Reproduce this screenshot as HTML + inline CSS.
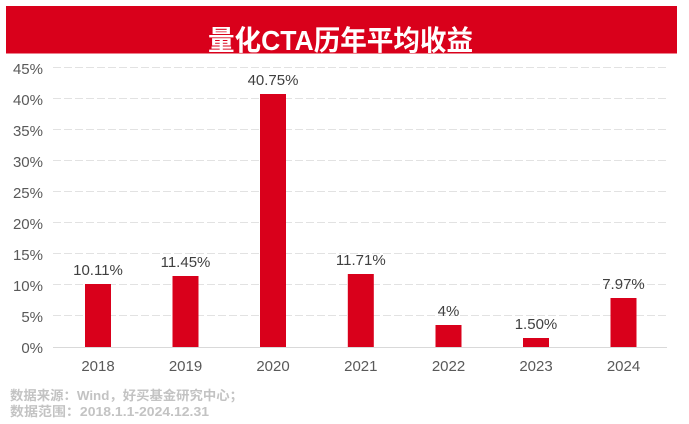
<!DOCTYPE html>
<html><head><meta charset="utf-8"><style>
html,body{margin:0;padding:0;background:#fff;}
svg{display:block;}
</style></head><body>
<svg width="689" height="424" viewBox="0 0 689 424" xmlns="http://www.w3.org/2000/svg">
<rect x="0" y="0" width="689" height="424" fill="#fff"/>
<rect x="6" y="6" width="671" height="47.5" fill="#d9001b"/>
<text x="208" y="50" textLength="265" lengthAdjust="spacingAndGlyphs" font-family="'Liberation Sans','Noto Sans CJK SC',sans-serif" font-weight="700" font-size="28" fill="#fff">量化CTA历年平均收益</text>
<g stroke="#e2e2e2" stroke-width="1" stroke-dasharray="8,3">
<line x1="53" x2="667" y1="67.5" y2="67.5"/>
<line x1="53" x2="667" y1="98.5" y2="98.5"/>
<line x1="53" x2="667" y1="129.5" y2="129.5"/>
<line x1="53" x2="667" y1="160.5" y2="160.5"/>
<line x1="53" x2="667" y1="191.5" y2="191.5"/>
<line x1="53" x2="667" y1="222.5" y2="222.5"/>
<line x1="53" x2="667" y1="253.5" y2="253.5"/>
<line x1="53" x2="667" y1="284.5" y2="284.5"/>
<line x1="53" x2="667" y1="315.5" y2="315.5"/>
</g>
<line x1="53" x2="667" y1="347.5" y2="347.5" stroke="#d9d9d9" stroke-width="1"/>
<g font-family="'Liberation Sans',sans-serif" font-size="15" fill="#595959" text-anchor="end">
<text x="43" y="74">45%</text>
<text x="43" y="105">40%</text>
<text x="43" y="136">35%</text>
<text x="43" y="167">30%</text>
<text x="43" y="198">25%</text>
<text x="43" y="229">20%</text>
<text x="43" y="260">15%</text>
<text x="43" y="291">10%</text>
<text x="43" y="322">5%</text>
<text x="43" y="353">0%</text>
</g>
<g fill="#d9001b">
<rect x="85" y="284" width="26" height="63"/>
<rect x="172.5" y="276" width="26" height="71"/>
<rect x="260" y="94" width="26" height="253"/>
<rect x="347.8" y="274" width="26" height="73"/>
<rect x="435.5" y="325" width="26" height="22"/>
<rect x="523" y="338" width="26" height="9"/>
<rect x="610.5" y="298" width="26" height="49"/>
</g>
<g font-family="'Liberation Sans',sans-serif" font-size="15" fill="#404040" text-anchor="middle">
<text x="98" y="275">10.11%</text>
<text x="185.5" y="267">11.45%</text>
<text x="273" y="85">40.75%</text>
<text x="360.8" y="265">11.71%</text>
<text x="448.5" y="316">4%</text>
<text x="536" y="329">1.50%</text>
<text x="623.5" y="289">7.97%</text>
</g>
<g font-family="'Liberation Sans',sans-serif" font-size="15" fill="#595959" text-anchor="middle">
<text x="98" y="371">2018</text>
<text x="185.5" y="371">2019</text>
<text x="273" y="371">2020</text>
<text x="360.8" y="371">2021</text>
<text x="448.5" y="371">2022</text>
<text x="536" y="371">2023</text>
<text x="623.5" y="371">2024</text>
</g>
<g font-family="'Liberation Sans','Noto Sans CJK SC',sans-serif" font-size="13" font-weight="700" fill="#c3c3c3">
<text x="10" y="400" textLength="233" lengthAdjust="spacingAndGlyphs">数据来源：Wind，好买基金研究中心；</text>
<text x="10" y="416" textLength="199" lengthAdjust="spacingAndGlyphs">数据范围：2018.1.1-2024.12.31</text>
</g>
</svg>
</body></html>
